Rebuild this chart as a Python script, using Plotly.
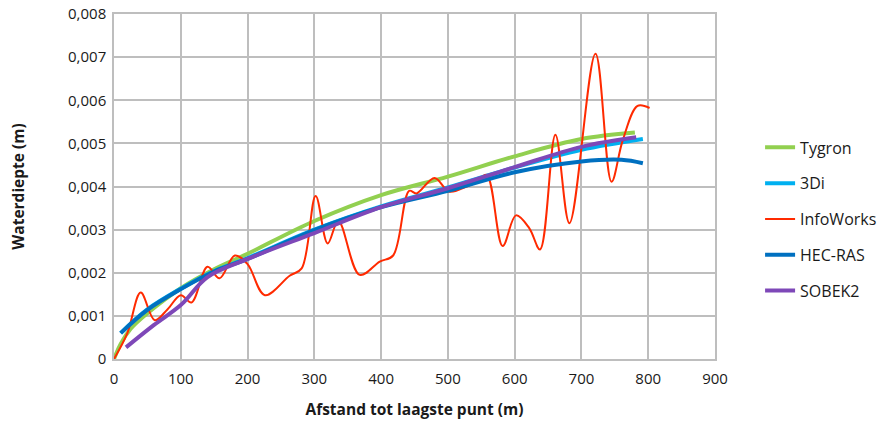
import plotly.graph_objects as go

# Afstand tot laagste punt (m) en waterdiepte (m) per model
tygron_x = [0, 10, 25, 50, 100, 150, 200, 300, 400, 500, 600, 700, 780]
tygron_y = [0, 0.00035, 0.0007, 0.00106, 0.00164, 0.00208, 0.00244, 0.0032, 0.0038,
            0.00423, 0.0047, 0.0051, 0.00525]

tridi_x = [10, 50, 100, 150, 200, 300, 400, 500, 600, 700, 792]
tridi_y = [0.0006, 0.00115, 0.00163, 0.00204, 0.00234, 0.003, 0.00354, 0.00398,
           0.00444, 0.00485, 0.0051]

infoworks_x = [0, 20, 40, 61, 80, 100, 116, 140, 158, 181, 200, 226, 263, 281, 302,
               320, 336, 368, 398, 418, 442, 453, 480, 502, 528, 543, 558, 582, 602,
               622, 638, 661, 682, 721, 745, 762, 784, 802]
infoworks_y = [0, 0.0006, 0.00154, 0.0009, 0.00115, 0.00148, 0.00131, 0.00214, 0.00187,
               0.0024, 0.0022, 0.00148, 0.00193, 0.0021, 0.00378, 0.00268, 0.0032,
               0.00195, 0.00226, 0.0024, 0.0039, 0.00384, 0.0042, 0.00388, 0.004,
               0.0041, 0.00427, 0.00262, 0.00333, 0.00303, 0.00254, 0.0052, 0.00315,
               0.00708, 0.00411, 0.00508, 0.00587, 0.00582]

hecras_x = [10, 50, 100, 150, 200, 300, 400, 500, 600, 700, 760, 792]
hecras_y = [0.0006, 0.00114, 0.00162, 0.00203, 0.00232, 0.00299, 0.00352, 0.0039,
            0.00433, 0.00458, 0.00462, 0.00454]

sobek_x = [18, 60, 100, 140, 200, 300, 400, 500, 600, 700, 782]
sobek_y = [0.00027, 0.00079, 0.00125, 0.0019, 0.00232, 0.00292, 0.00352, 0.00396,
           0.00445, 0.00492, 0.00514]

y_ticks = [0, 0.001, 0.002, 0.003, 0.004, 0.005, 0.006, 0.007, 0.008]
y_tick_labels = ["0", "0,001", "0,002", "0,003", "0,004", "0,005", "0,006", "0,007", "0,008"]
x_ticks = [0, 100, 200, 300, 400, 500, 600, 700, 800, 900]

series = [
    ("Tygron", tygron_x, tygron_y, "#92D050", 4),
    ("3Di", tridi_x, tridi_y, "#00B0F0", 4),
    ("InfoWorks", infoworks_x, infoworks_y, "#FF2A00", 2),
    ("HEC-RAS", hecras_x, hecras_y, "#0070C0", 4),
    ("SOBEK2", sobek_x, sobek_y, "#7E48B8", 4),
]

fig = go.Figure()
for i, (name, xs, ys, color, width) in enumerate(series):
    fig.add_trace(go.Scatter(
        x=xs, y=ys, name=name, mode="lines",
        line=dict(color=color, width=width, shape="spline", smoothing=1.0),
        legendgroup=f"g{i}",
    ))

font = "Open Sans"
grid = "#BEBEBE"

fig.update_layout(
    width=879, height=423,
    margin=dict(l=114, r=164, t=14, b=64, autoexpand=False),
    paper_bgcolor="white", plot_bgcolor="white",
    font=dict(family=font, size=15, color="#1a1a1a"),
    showlegend=True,
    legend=dict(
        x=1.075, xanchor="left", y=0.406, yanchor="middle",
        traceorder="grouped", tracegroupgap=12,
        font=dict(size=16, color="#1a1a1a"),
        bgcolor="rgba(0,0,0,0)", itemwidth=30,
    ),
    xaxis=dict(
        range=[0, 900], tickvals=x_ticks, ticktext=[str(v) for v in x_ticks],
        showgrid=True, gridcolor=grid, gridwidth=1.5,
        showline=True, linecolor=grid, linewidth=1.5, mirror=True,
        zeroline=False, ticks="outside", ticklen=5, tickcolor="rgba(0,0,0,0)",
        title=dict(text="<b>Afstand tot laagste punt (m)</b>", font=dict(size=15.5), standoff=17),
        tickfont=dict(size=15), automargin=False,
    ),
    yaxis=dict(
        range=[0, 0.008], tickvals=y_ticks, ticktext=y_tick_labels,
        showgrid=True, gridcolor=grid, gridwidth=1.5,
        showline=True, linecolor=grid, linewidth=1.5, mirror=True,
        zeroline=False, ticks="outside", ticklen=3, tickcolor="rgba(0,0,0,0)",
        title=dict(text="<b>Waterdiepte (m)</b>", font=dict(size=15.5), standoff=40),
        tickfont=dict(size=15), automargin=False,
    ),
)

fig.write_html("out.html")
